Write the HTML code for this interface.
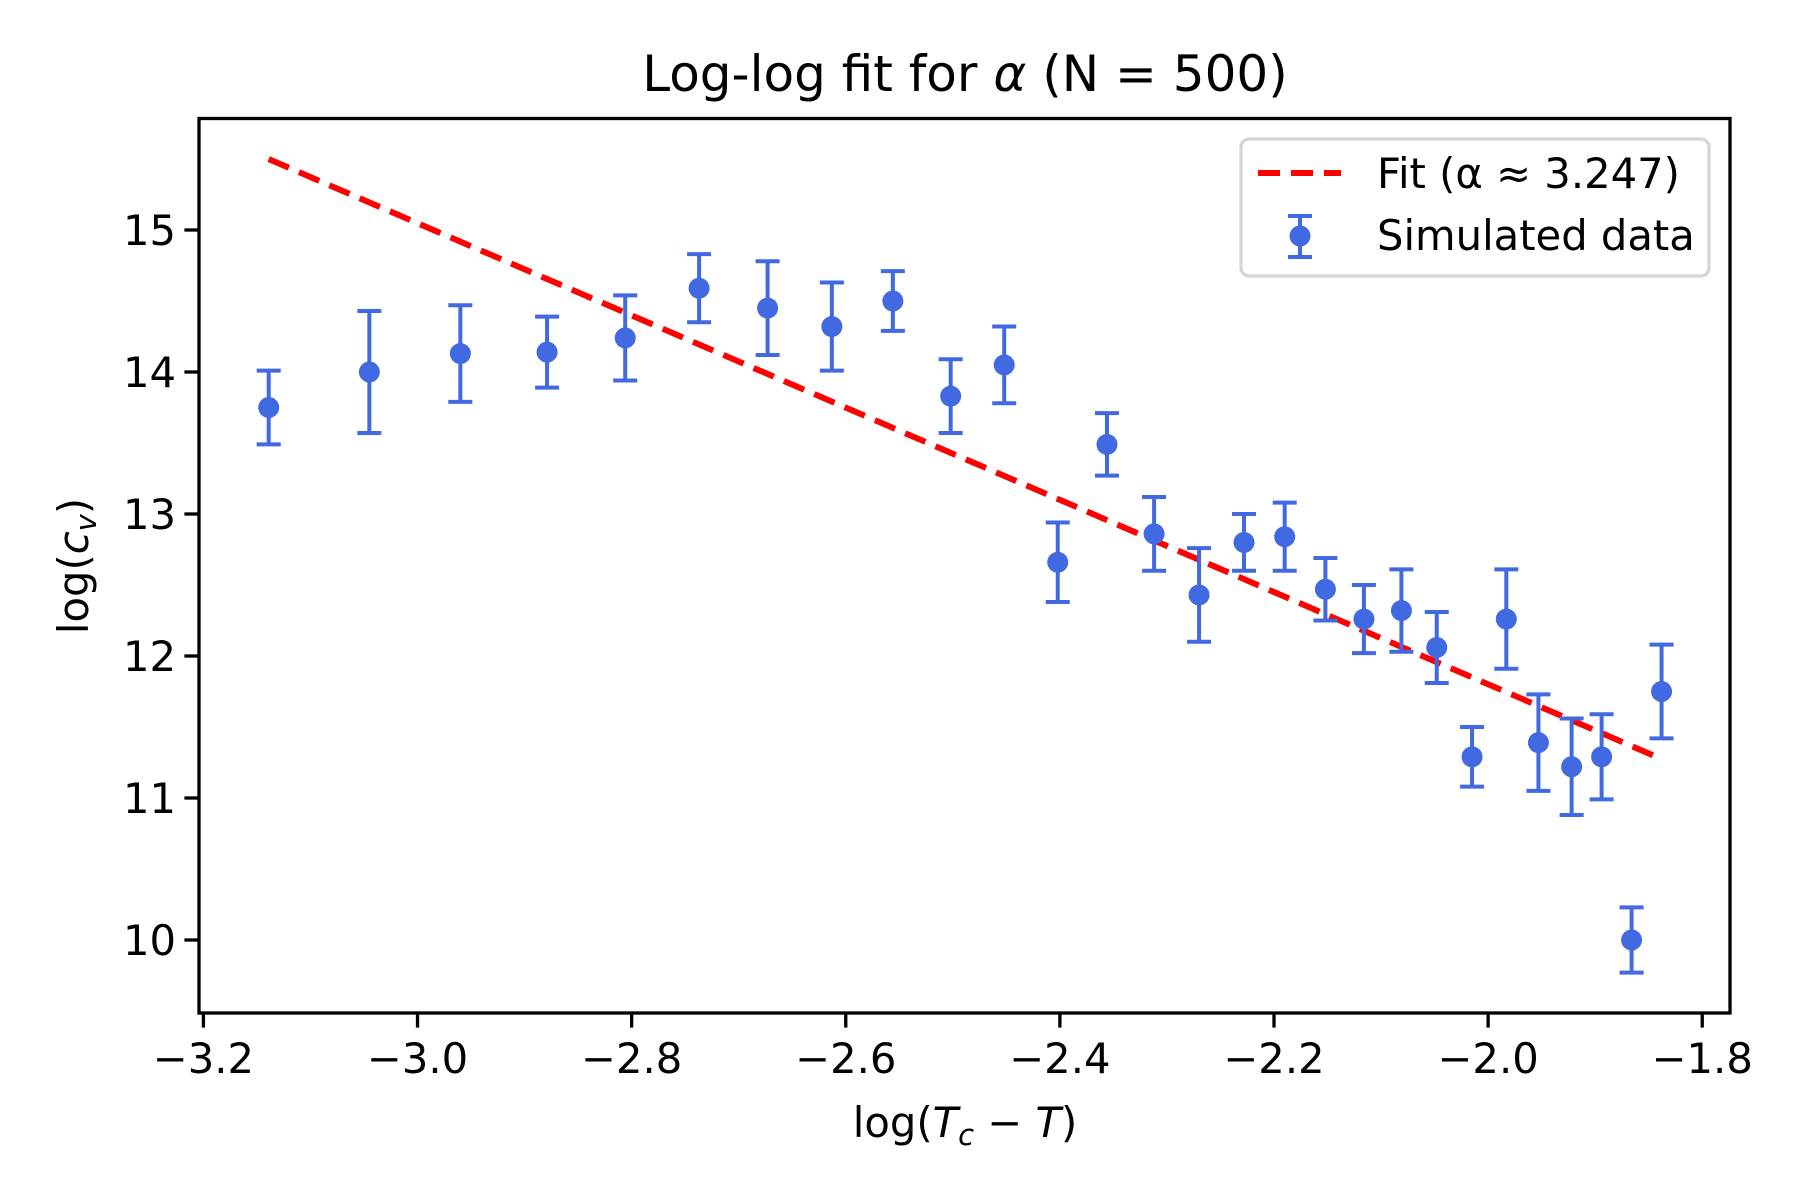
<!DOCTYPE html>
<html><head><meta charset="utf-8"><style>
html,body{margin:0;padding:0;background:#fff;}
svg{display:block;font-family:"DejaVu Sans","Liberation Sans",sans-serif;}
</style></head><body>
<svg id="chart" width="1800" height="1200" viewBox="0 0 1800 1200" xmlns="http://www.w3.org/2000/svg">
<rect width="1800" height="1200" fill="#fff"/>
<text x="965" y="91" font-size="50" text-anchor="middle">Log-log fit for <tspan font-style="italic">α</tspan> (N = 500)</text>
<g id="plot"></g>
<text x="965" y="1137" font-size="41.7" text-anchor="middle">log(<tspan font-style="italic">T</tspan><tspan font-style="italic" font-size="29" dy="8">c</tspan><tspan dy="-8"> − </tspan><tspan font-style="italic">T</tspan>)</text>
<text transform="translate(88,566) rotate(-90)" font-size="41.7" text-anchor="middle">log(<tspan font-style="italic">c</tspan><tspan font-style="italic" font-size="29" dy="8">v</tspan><tspan dy="-8">)</tspan></text>
<g>
<rect x="1241" y="139" width="468" height="137" rx="8" fill="#fff" fill-opacity="0.8" stroke="#d5d5d5" stroke-width="3.3"/>
<line x1="1258" y1="173" x2="1341" y2="173" stroke="#ff0000" stroke-width="6" stroke-dasharray="22,11"/>
<text x="1377" y="188" font-size="41.7">Fit (α ≈ 3.247)</text>
<g stroke="#4169e1" stroke-width="4">
<line x1="1300" y1="216" x2="1300" y2="257"/><line x1="1288" y1="216" x2="1312" y2="216"/><line x1="1288" y1="257" x2="1312" y2="257"/>
<circle cx="1300" cy="236" r="10.5" fill="#4169e1" stroke="none"/></g>
<text x="1377" y="250" font-size="41.7">Simulated data</text>
</g>
</svg>
<script>
const xs = [-3.139,-3.045,-2.960,-2.879,-2.806,-2.737,-2.673,-2.613,-2.556,-2.502,-2.452,-2.402,-2.356,-2.312,-2.270,-2.228,-2.190,-2.152,-2.116,-2.081,-2.048,-2.015,-1.983,-1.953,-1.922,-1.894,-1.866,-1.838];
const ys = [13.75,14.00,14.13,14.14,14.24,14.59,14.45,14.32,14.50,13.83,14.05,12.66,13.49,12.86,12.43,12.80,12.84,12.47,12.26,12.32,12.06,11.29,12.26,11.39,11.22,11.29,10.00,11.75];
const errs = [0.26,0.43,0.34,0.25,0.30,0.24,0.33,0.31,0.21,0.26,0.27,0.28,0.22,0.26,0.33,0.20,0.24,0.22,0.24,0.29,0.25,0.21,0.35,0.34,0.34,0.30,0.23,0.33];
const fitSlope = -3.247;
const fitIntercept = 5.307;
const xTicks = [-3.2,-3.0,-2.8,-2.6,-2.4,-2.2,-2.0,-1.8];
const xTickLabels = ["−3.2","−3.0","−2.8","−2.6","−2.4","−2.2","−2.0","−1.8"];
const yTicks = [10,11,12,13,14,15];
const yTickLabels = ["10","11","12","13","14","15"];

const L=199,R=1730,T=118.5,B=1013;
const X = v => 203.4 + (v + 3.2) * 1070.6;
const Y = v => 940 - (v - 10) * 142.0;
const NS="http://www.w3.org/2000/svg";
const g=document.getElementById('plot');
function mk(tag,attrs,parent){const e=document.createElementNS(NS,tag);for(const k in attrs)e.setAttribute(k,attrs[k]);(parent||g).appendChild(e);return e;}

// fit line
const x0=xs[0], x1=xs[xs.length-1];
const fit=mk('line',{x1:X(x0),y1:Y(fitIntercept+fitSlope*x0),x2:X(x1),y2:Y(fitIntercept+fitSlope*x1),stroke:'#ff0000','stroke-width':6,'stroke-dasharray':'22,11'});



// error bars + points
xs.forEach((xv,i)=>{
  const grp=mk('g',{stroke:'#4169e1','stroke-width':4});
  
  
  const cx=X(xv), top=Y(ys[i]+errs[i]), bot=Y(ys[i]-errs[i]);
  mk('line',{x1:cx,y1:top,x2:cx,y2:bot},grp);
  mk('line',{x1:cx-12,y1:top,x2:cx+12,y2:top},grp);
  mk('line',{x1:cx-12,y1:bot,x2:cx+12,y2:bot},grp);
  mk('circle',{cx:cx,cy:Y(ys[i]),r:10.5,fill:'#4169e1',stroke:'none'},grp);
});

// axes frame
const frame=mk('rect',{x:L,y:T,width:R-L,height:B-T,fill:'none',stroke:'#000','stroke-width':3.3});



xTicks.forEach((v,i)=>{
  const t=mk('line',{x1:X(v),y1:B,x2:X(v),y2:B+14.6,stroke:'#000','stroke-width':3.3});
  
  
  const lb=mk('text',{x:X(v),y:B+60,'font-size':41.7,'text-anchor':'middle'});
  lb.textContent=xTickLabels[i];
  
  
});
yTicks.forEach((v,i)=>{
  const t=mk('line',{x1:L-14.6,y1:Y(v),x2:L,y2:Y(v),stroke:'#000','stroke-width':3.3});
  
  
  const lb=mk('text',{x:L-23,y:Y(v)+15,'font-size':41.7,'text-anchor':'end'});
  lb.textContent=yTickLabels[i];
  
  
});
</script>
</body></html>
